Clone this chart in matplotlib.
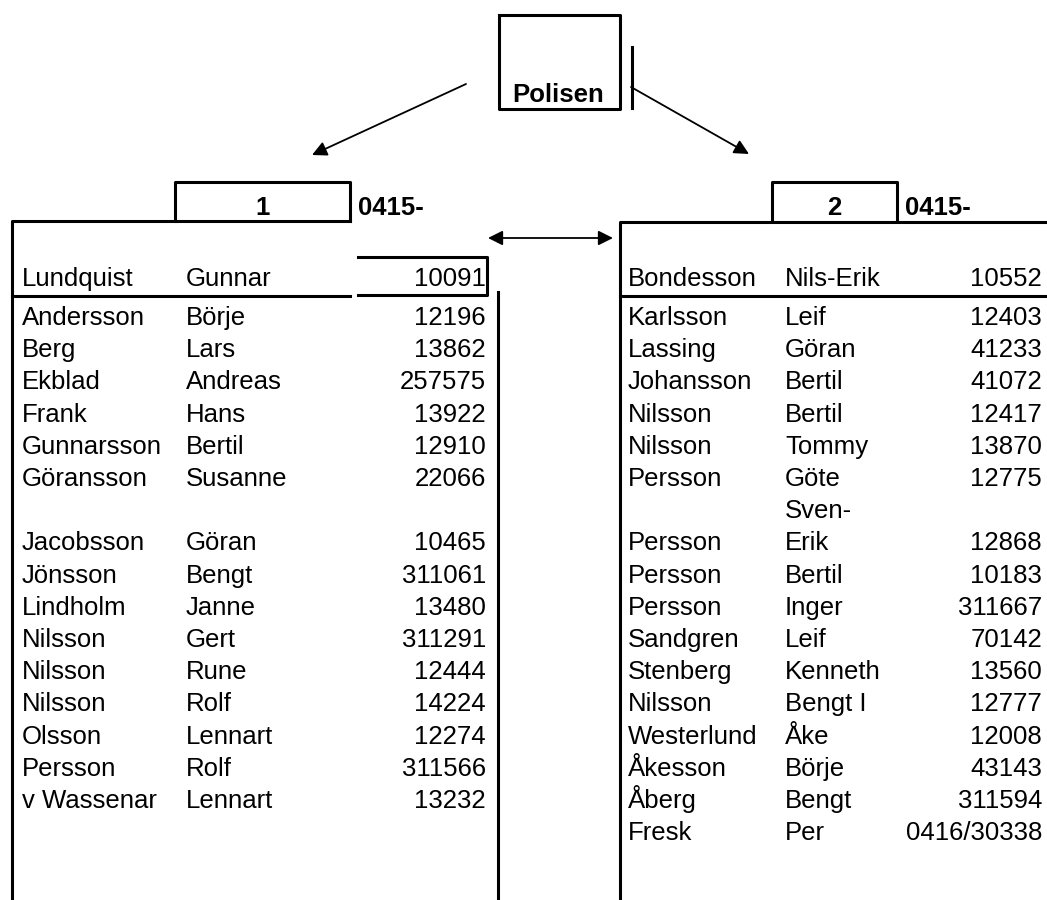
import matplotlib
matplotlib.use("Agg")
import matplotlib.pyplot as plt

plt.rcParams['font.family'] = ['Liberation Sans', 'DejaVu Sans']

# ---- data ----
top_label = "Polisen"
group_labels = ["1", "2"]
prefix_labels = ["0415-", "0415-"]

left_head = ("Lundquist", "Gunnar", "10091")
left_last = ["Andersson", "Berg", "Ekblad", "Frank", "Gunnarsson", "Göransson", "",
             "Jacobsson", "Jönsson", "Lindholm", "Nilsson", "Nilsson", "Nilsson",
             "Olsson", "Persson", "v Wassenar"]
left_first = ["Börje", "Lars", "Andreas", "Hans", "Bertil", "Susanne", "",
              "Göran", "Bengt", "Janne", "Gert", "Rune", "Rolf",
              "Lennart", "Rolf", "Lennart"]
left_num = ["12196", "13862", "257575", "13922", "12910", "22066", "",
            "10465", "311061", "13480", "311291", "12444", "14224",
            "12274", "311566", "13232"]

right_head = ("Bondesson", "Nils-Erik", "10552")
right_last = ["Karlsson", "Lassing", "Johansson", "Nilsson", "Nilsson", "Persson", "",
              "Persson", "Persson", "Persson", "Sandgren", "Stenberg", "Nilsson",
              "Westerlund", "Åkesson", "Åberg", "Fresk"]
right_first = ["Leif", "Göran", "Bertil", "Bertil", "Tommy", "Göte", "Sven-",
               "Erik", "Bertil", "Inger", "Leif", "Kenneth", "Bengt I",
               "Åke", "Börje", "Bengt", "Per"]
right_num = ["12403", "41233", "41072", "12417", "13870", "12775", "",
             "12868", "10183", "311667", "70142", "13560", "12777",
             "12008", "43143", "311594", "0416/30338"]

# ---- drawing ----
W, H = 1047, 900
fig = plt.figure(figsize=(W / 100, H / 100), dpi=100)
ax = fig.add_axes([0, 0, 1, 1])
ax.set_xlim(0, W)
ax.set_ylim(H, 0)
ax.axis('off')

FS = 18.5
LW = 2.2
k = 'black'

def line(xs, ys, lw=LW):
    ax.plot(xs, ys, color=k, lw=lw, solid_capstyle='projecting')

# Polisen box
line([499, 620, 620, 499, 499], [15, 15, 109, 109, 15])
ax.text(558, 102, top_label, ha='center', va='baseline', fontsize=FS, fontweight='bold')
line([632, 632], [47, 108])

arrow = dict(arrowstyle='-|>', color=k, lw=1.3, mutation_scale=22, shrinkA=0, shrinkB=0)
ax.annotate('', xy=(312, 155), xytext=(466, 84), arrowprops=arrow)
ax.annotate('', xy=(749, 154), xytext=(631, 87), arrowprops=arrow)
ax.annotate('', xy=(613, 238), xytext=(488, 238),
            arrowprops=dict(arrowstyle='<|-|>', color=k, lw=1.3, mutation_scale=22,
                            shrinkA=0, shrinkB=0))

# header boxes
for (x0, x1, px), g, p in zip([(175, 350, 358), (772, 897, 905)], group_labels, prefix_labels):
    line([x0, x0, x1, x1], [221, 182, 182, 221])
    ax.text((x0 + x1) / 2, 215, g, ha='center', va='baseline', fontsize=FS, fontweight='bold')
    ax.text(px, 215, p, ha='left', va='baseline', fontsize=FS, fontweight='bold')

# left table frame
line([12, 12, 350], [900, 221, 221])
line([12, 350], [296, 296])
line([358, 487, 487, 358], [257, 257, 295, 295])
line([498, 498], [292, 900])

# right table frame
line([620, 620, 1047], [900, 222, 222])
line([620, 1047], [296, 296])

Y0, DY = 325, 32.2
HB = 286

def table(head, last, first, num, xl, xf, xn):
    ax.text(xl, HB, head[0], fontsize=FS, va='baseline')
    ax.text(xf, HB, head[1], fontsize=FS, va='baseline')
    ax.text(xn, HB, head[2], fontsize=FS, va='baseline', ha='right')
    for i, (a, b, c) in enumerate(zip(last, first, num)):
        y = Y0 + DY * i
        ax.text(xl, y, a, fontsize=FS, va='baseline')
        ax.text(xf, y, b, fontsize=FS, va='baseline')
        ax.text(xn, y, c, fontsize=FS, va='baseline', ha='right')

table(left_head, left_last, left_first, left_num, 22, 186, 486)
table(right_head, right_last, right_first, right_num, 628, 785, 1042)

fig.savefig("out.png", dpi=100)
